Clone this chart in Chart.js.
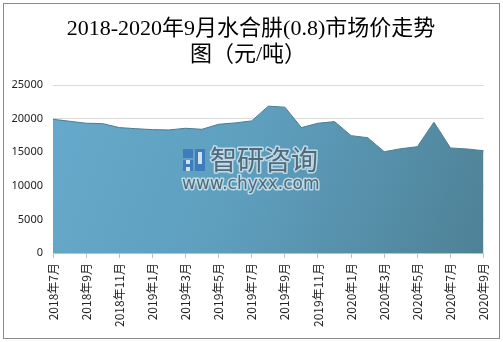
<!DOCTYPE html>
<html>
<head>
<meta charset="utf-8">
<script src="https://cdn.jsdelivr.net/npm/chart.js@4/dist/chart.umd.min.js"></script>
<style>
  html, body { margin: 0; padding: 0; background: #fff; }
  #chart { display: block; }
</style>
</head>
<body>
<canvas id="chart" width="503" height="342"></canvas>
<script>
// ---- data ----
const titleLines = ['2018-2020年9月水合肼(0.8)市场价走势', '图（元/吨）'];
const months = [
  '2018年7月', '2018年8月', '2018年9月', '2018年10月', '2018年11月', '2018年12月',
  '2019年1月', '2019年2月', '2019年3月', '2019年4月', '2019年5月', '2019年6月',
  '2019年7月', '2019年8月', '2019年9月', '2019年10月', '2019年11月', '2019年12月',
  '2020年1月', '2020年2月', '2020年3月', '2020年4月', '2020年5月', '2020年6月',
  '2020年7月', '2020年8月', '2020年9月'
];
const prices = [
  19900, 19610, 19310, 19250, 18660, 18500,
  18360, 18310, 18560, 18410, 19160, 19360,
  19660, 21850, 21700, 18660, 19310, 19550,
  17460, 17160, 15070, 15520, 15820, 19460,
  15630, 15480, 15220
];
const yMax = 25000;
const yStep = 5000;

// area fill: lighter on the left, darker towards bottom right
function areaFill(ctx) {
  const area = ctx.chart.chartArea;
  if (!area) return '#5fa2c2';
  const g = ctx.chart.ctx.createLinearGradient(area.left, area.top, area.right, area.bottom);
  g.addColorStop(0, '#66aacb');
  g.addColorStop(0.45, '#5e9fbe');
  g.addColorStop(1, '#4e8196');
  return g;
}

// outer frame + two-line title
const framePlugin = {
  id: 'frame',
  afterDraw(chart) {
    const c = chart.ctx;
    c.save();
    c.strokeStyle = '#8a8a8a';
    c.lineWidth = 1;
    c.strokeRect(3.5, 3.5, 496, 335);
    c.fillStyle = '#000';
    c.textAlign = 'center';
    c.textBaseline = 'middle';
    c.font = '22px "Liberation Serif", "Noto Sans CJK SC", serif';
    c.fillText(titleLines[0], 251, 29);
    c.fillText(titleLines[1], 248, 55);
    c.restore();
  }
};

// site watermark over the area
const watermarkPlugin = {
  id: 'watermark',
  afterDatasetsDraw(chart) {
    const c = chart.ctx;
    c.save();
    // small logo block
    const lx = 183, ly = 149;
    c.fillStyle = 'rgba(60,120,190,0.9)';
    c.fillRect(lx, ly, 10, 9);
    c.fillRect(lx + 12, ly, 10, 22);
    c.fillRect(lx, ly + 11, 10, 11);
    c.fillStyle = 'rgba(225,238,245,0.9)';
    c.fillRect(lx + 3, ly + 11, 4, 4);
    c.fillRect(lx + 15, ly + 3, 4, 12);
    c.fillRect(lx + 3, ly + 18, 4, 4);

    c.lineJoin = 'round';
    c.textBaseline = 'alphabetic';
    c.textAlign = 'left';
    c.font = '27px "Noto Sans CJK SC", sans-serif';
    c.strokeStyle = 'rgba(205,228,238,0.85)';
    c.lineWidth = 3;
    c.strokeText('智研咨询', 210, 170);
    c.fillStyle = 'rgba(72,92,108,0.9)';
    c.fillText('智研咨询', 210, 170);

    c.font = '17px "DejaVu Sans", sans-serif';
    c.lineWidth = 3;
    c.strokeText('www.chyxx.com', 182, 189);
    c.fillText('www.chyxx.com', 182, 189);
    c.restore();
  }
};

new Chart(document.getElementById('chart'), {
  type: 'line',
  data: {
    labels: months,
    datasets: [{
      data: prices,
      fill: 'origin',
      backgroundColor: areaFill,
      borderColor: '#4b7e93',
      borderWidth: 1,
      pointRadius: 0,
      tension: 0
    }]
  },
  options: {
    responsive: false,
    animation: false,
    devicePixelRatio: 1,
    layout: { padding: { top: 85, right: 17, bottom: 0, left: 0 } },
    plugins: {
      legend: { display: false },
      title: { display: false },
      tooltip: { enabled: false }
    },
    scales: {
      x: {
        offset: false,
        afterFit(scale) { scale.height = 89; },
        grid: {
          drawOnChartArea: false,
          drawTicks: true,
          tickLength: 5,
          color: '#bfbfbf'
        },
        border: { display: true, color: '#bfbfbf' },
        ticks: {
          autoSkip: false,
          minRotation: 90,
          maxRotation: 90,
          padding: 5,
          color: '#222',
          font: { family: '"Noto Sans CJK SC", sans-serif', size: 12 },
          callback(value, index) {
            return index % 2 === 0 ? months[index] : null;
          }
        }
      },
      y: {
        min: 0,
        max: yMax,
        afterFit(scale) { scale.width = 53; },
        grid: { color: '#d9d9d9', drawTicks: false },
        border: { display: false },
        ticks: {
          stepSize: yStep,
          padding: 10,
          color: '#222',
          font: { family: '"Noto Sans", sans-serif', size: 11 },
          callback: value => String(value)
        }
      }
    }
  },
  plugins: [framePlugin, watermarkPlugin]
});
</script>
</body>
</html>
